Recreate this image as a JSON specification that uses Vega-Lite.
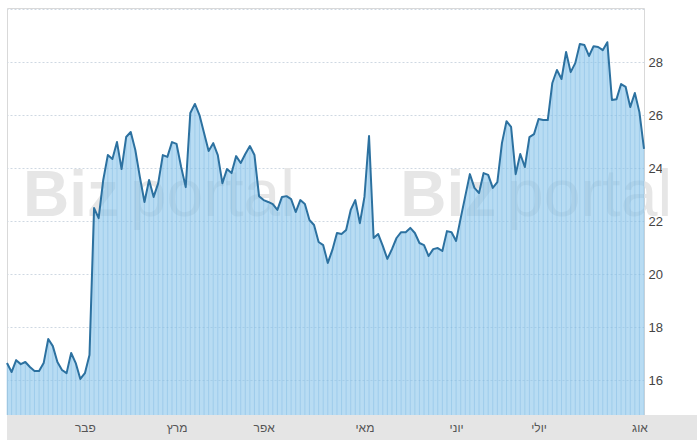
{
  "$schema": "https://vega.github.io/schema/vega-lite/v6.json",
  "width": 637,
  "height": 407,
  "autosize": {"type": "none"},
  "padding": {"left": 7, "top": 8, "right": 53, "bottom": 25},
  "background": "white",
  "config": {
    "view": {"stroke": "#d9d9d9", "strokeWidth": 1},
    "axisX": {"ticks": false, "domain": false, "grid": false, "labelFlush": false, "labelOverlap": false, "labelFont": "Liberation Sans", "labelFontSize": 12, "labelColor": "#555555", "labelPadding": 7, "title": null},
    "axisY": {"ticks": false, "domain": false, "grid": true, "gridColor": "#cfd8e2", "gridDash": [2, 2], "gridWidth": 1, "labelFont": "Liberation Sans", "labelFontSize": 13, "labelColor": "#444444", "labelPadding": 4, "labelFlush": false, "title": null}
  },
  "datasets": {
    "price": [
      {"i":0,"v":16.64},{"i":1,"v":16.30},{"i":2,"v":16.75},{"i":3,"v":16.60},{"i":4,"v":16.68},
      {"i":5,"v":16.49},{"i":6,"v":16.34},{"i":7,"v":16.34},{"i":8,"v":16.64},{"i":9,"v":17.55},
      {"i":10,"v":17.28},{"i":11,"v":16.68},{"i":12,"v":16.38},{"i":13,"v":16.26},{"i":14,"v":17.02},
      {"i":15,"v":16.64},{"i":16,"v":16.04},{"i":17,"v":16.26},{"i":18,"v":16.94},{"i":19,"v":22.49},
      {"i":20,"v":22.11},{"i":21,"v":23.55},{"i":22,"v":24.49},{"i":23,"v":24.34},{"i":24,"v":24.98},
      {"i":25,"v":23.96},{"i":26,"v":25.17},{"i":27,"v":25.36},{"i":28,"v":24.68},{"i":29,"v":23.66},
      {"i":30,"v":22.72},{"i":31,"v":23.55},{"i":32,"v":22.91},{"i":33,"v":23.43},{"i":34,"v":24.49},
      {"i":35,"v":24.42},{"i":36,"v":24.98},{"i":37,"v":24.91},{"i":38,"v":24.04},{"i":39,"v":23.28},
      {"i":40,"v":26.08},{"i":41,"v":26.42},{"i":42,"v":26.00},{"i":43,"v":25.32},{"i":44,"v":24.64},
      {"i":45,"v":24.94},{"i":46,"v":24.49},{"i":47,"v":23.43},{"i":48,"v":23.96},{"i":49,"v":23.81},
      {"i":50,"v":24.45},{"i":51,"v":24.19},{"i":52,"v":24.53},{"i":53,"v":24.83},{"i":54,"v":24.49},
      {"i":55,"v":22.94},{"i":56,"v":22.79},{"i":57,"v":22.72},{"i":58,"v":22.64},{"i":59,"v":22.42},
      {"i":60,"v":22.91},{"i":61,"v":22.94},{"i":62,"v":22.83},{"i":63,"v":22.34},{"i":64,"v":22.79},
      {"i":65,"v":22.64},{"i":66,"v":22.04},{"i":67,"v":21.85},{"i":68,"v":21.21},{"i":69,"v":21.09},
      {"i":70,"v":20.42},{"i":71,"v":20.91},{"i":72,"v":21.55},{"i":73,"v":21.51},{"i":74,"v":21.66},
      {"i":75,"v":22.42},{"i":76,"v":22.79},{"i":77,"v":21.92},{"i":78,"v":22.91},{"i":79,"v":25.21},
      {"i":80,"v":21.36},{"i":81,"v":21.51},{"i":82,"v":21.06},{"i":83,"v":20.57},{"i":84,"v":20.94},
      {"i":85,"v":21.36},{"i":86,"v":21.58},{"i":87,"v":21.58},{"i":88,"v":21.74},{"i":89,"v":21.55},
      {"i":90,"v":21.17},{"i":91,"v":21.09},{"i":92,"v":20.68},{"i":93,"v":20.94},{"i":94,"v":20.98},
      {"i":95,"v":20.87},{"i":96,"v":21.62},{"i":97,"v":21.58},{"i":98,"v":21.25},{"i":99,"v":22.11},
      {"i":100,"v":22.94},{"i":101,"v":23.77},{"i":102,"v":23.25},{"i":103,"v":23.06},{"i":104,"v":23.81},
      {"i":105,"v":23.74},{"i":106,"v":23.25},{"i":107,"v":23.47},{"i":108,"v":24.94},{"i":109,"v":25.77},
      {"i":110,"v":25.55},{"i":111,"v":23.77},{"i":112,"v":24.53},{"i":113,"v":24.04},{"i":114,"v":25.17},
      {"i":115,"v":25.28},{"i":116,"v":25.85},{"i":117,"v":25.81},{"i":118,"v":25.81},{"i":119,"v":27.21},
      {"i":120,"v":27.70},{"i":121,"v":27.36},{"i":122,"v":28.38},{"i":123,"v":27.62},{"i":124,"v":27.96},
      {"i":125,"v":28.68},{"i":126,"v":28.64},{"i":127,"v":28.23},{"i":128,"v":28.60},{"i":129,"v":28.57},
      {"i":130,"v":28.45},{"i":131,"v":28.75},{"i":132,"v":26.57},{"i":133,"v":26.60},{"i":134,"v":27.17},
      {"i":135,"v":27.06},{"i":136,"v":26.30},{"i":137,"v":26.83},{"i":138,"v":26.11},{"i":139,"v":24.72}
    ],
    "one": [{"k": 1}]
  },
  "layer": [
    {
      "data": {"name": "one"},
      "mark": {"type": "rect", "color": "#e5e5e5"},
      "encoding": {
        "x": {"datum": 0, "type": "quantitative", "scale": {"domain": [0, 139], "nice": false, "zero": false},
          "axis": {"orient": "bottom", "zindex": 2, "values": [17, 37, 56, 78, 98, 116, 138],
            "labelExpr": "datum.value==17?'פבר':datum.value==37?'מרץ':datum.value==56?'אפר':datum.value==78?'מאי':datum.value==98?'יוני':datum.value==116?'יולי':'אוג'"}},
        "x2": {"datum": 152},
        "y": {"datum": 14.68, "type": "quantitative", "scale": {"domain": [14.68, 30.04], "nice": false, "zero": false},
          "axis": {"orient": "right", "zindex": 0, "values": [16, 18, 20, 22, 24, 26, 28, 30], "labelExpr": "datum.value==30?'':datum.label"}},
        "y2": {"datum": 13.5}
      }
    },
    {
      "data": {"name": "one"},
      "mark": {"type": "text", "text": "Biz", "font": "Liberation Sans", "fontWeight": "bold", "fontSize": 64, "color": "#e6e6e6", "align": "left", "baseline": "alphabetic"},
      "encoding": {
        "x": {"datum": 3.5, "type": "quantitative"},
        "y": {"datum": 22.2, "type": "quantitative"}
      }
    },
    {
      "data": {"name": "one"},
      "mark": {"type": "text", "text": "portal", "font": "Liberation Sans", "fontWeight": "normal", "fontSize": 66, "color": "#e6e6e6", "align": "left", "baseline": "alphabetic"},
      "encoding": {
        "x": {"datum": 26.8, "type": "quantitative"},
        "y": {"datum": 22.2, "type": "quantitative"}
      }
    },
    {
      "data": {"name": "one"},
      "mark": {"type": "text", "text": "Biz", "font": "Liberation Sans", "fontWeight": "bold", "fontSize": 64, "color": "#e6e6e6", "align": "left", "baseline": "alphabetic"},
      "encoding": {
        "x": {"datum": 85.8, "type": "quantitative"},
        "y": {"datum": 22.2, "type": "quantitative"}
      }
    },
    {
      "data": {"name": "one"},
      "mark": {"type": "text", "text": "portal", "font": "Liberation Sans", "fontWeight": "normal", "fontSize": 66, "color": "#e6e6e6", "align": "left", "baseline": "alphabetic"},
      "encoding": {
        "x": {"datum": 109.1, "type": "quantitative"},
        "y": {"datum": 22.2, "type": "quantitative"}
      }
    },
    {
      "data": {"name": "price"},
      "mark": {"type": "area", "color": "#89c5eb", "fillOpacity": 0.6},
      "encoding": {
        "x": {"field": "i", "type": "quantitative"},
        "y": {"field": "v", "type": "quantitative"},
        "y2": {"datum": 14.68}
      }
    },
    {
      "data": {"name": "price"},
      "mark": {"type": "rule", "color": "#6fb0de", "strokeWidth": 1, "opacity": 0.35},
      "encoding": {
        "x": {"field": "i", "type": "quantitative"},
        "y": {"field": "v", "type": "quantitative"},
        "y2": {"datum": 14.68}
      }
    },
    {
      "data": {"name": "price"},
      "mark": {"type": "line", "color": "#2c71a0", "strokeWidth": 2, "strokeJoin": "round"},
      "encoding": {
        "x": {"field": "i", "type": "quantitative"},
        "y": {"field": "v", "type": "quantitative"}
      }
    }
  ]
}
